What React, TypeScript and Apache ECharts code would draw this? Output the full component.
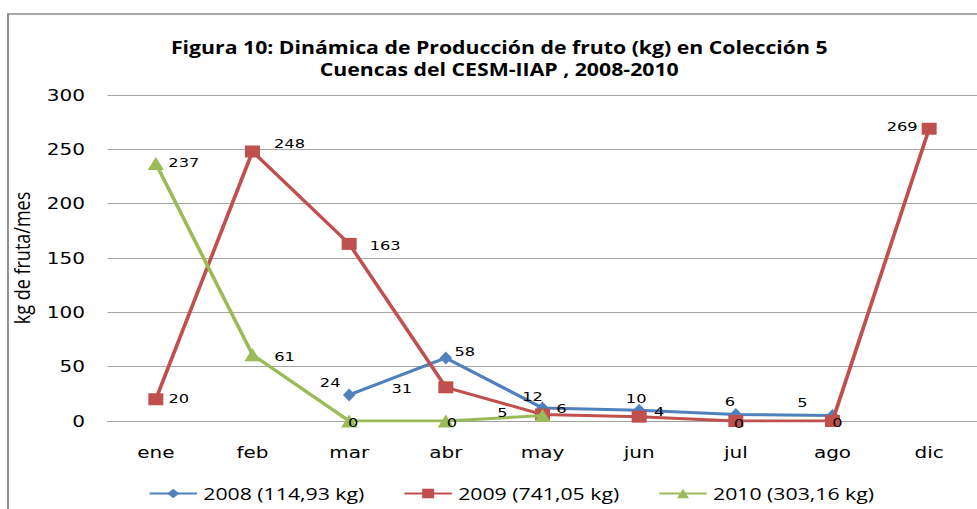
import React, { useEffect, useRef } from "react";
import * as echarts from "echarts";

const months = ["ene", "feb", "mar", "abr", "may", "jun", "jul", "ago", "dic"];
const y2008: (number | null)[] = [null, null, 24, 58, 12, 10, 6, 5, null];
const y2009: (number | null)[] = [20, 248, 163, 31, 6, 4, 0, 0, 269];
const y2010: (number | null)[] = [237, 61, 0, 0, 5, null, null, null, null];
const names = ["2008 (114,93 kg)", "2009 (741,05 kg)", "2010 (303,16 kg)"];
const yTicks = [0, 50, 100, 150, 200, 250, 300];

// label offsets (dx, dy in page pixels) relative to each marker
const off2008: number[][] = [[0, 0], [0, 0], [-19, -13], [19, -7], [-10, -12], [-3, -12], [-6, -13], [-30, -13], [0, 0]];
const off2009: number[][] = [[23, -1], [37, -8], [36, 1], [-44, 1], [19, -6], [20, -6], [3, 2], [5, 1], [-27, -3]];
const off2010: number[][] = [[28, -1], [32, 1], [4, 1], [6, 1], [-40, -3], [0, 0], [0, 0], [0, 0], [0, 0]];

// the reference is horizontally stretched; draw narrower and stretch with CSS
const S = 1.25;
const W = 977 / S;

function buildData(vals: (number | null)[], offs: number[][]) {
  return vals.map((v, i) =>
    v === null
      ? null
      : {
          value: v,
          label: { position: "inside", offset: [offs[i][0] / S, offs[i][1]] },
        }
  );
}

export default function App() {
  const ref = useRef<HTMLDivElement>(null);
  useEffect(() => {
    if (!ref.current) return;
    const chart = echarts.init(ref.current, null, { renderer: "svg" });
    const labelStyle = {
      show: true,
      color: "#000",
      fontFamily: "DejaVu Sans",
      fontSize: 13,
    };
    chart.setOption({
      animation: false,
      backgroundColor: "#fff",
      title: {
        text: "Figura 10: Dinámica de Producción de fruto (kg) en Colección 5\nCuencas del CESM-IIAP , 2008-2010",
        left: 493 / S,
        textAlign: "center",
        top: 31,
        textStyle: {
          fontFamily: "Open Sans",
          fontWeight: "bold",
          fontSize: 17,
          lineHeight: 22,
          color: "#000",
        },
      },
      graphic: [
        {
          type: "rect",
          shape: { x: 8 / S, y: 14, width: 1000, height: 600 },
          style: { fill: "none", stroke: "#8c8c8c", lineWidth: 1.5 },
          silent: true,
        },
      ],
      legend: {
        top: 480,
        left: 142 / S,
        itemWidth: 38,
        itemHeight: 12,
        itemGap: 31,
        textStyle: { fontFamily: "Open Sans", fontSize: 17, color: "#000" },
        data: names,
      },
      grid: { left: 105 / S, right: W - 985 / S, top: 95, height: 326 },
      xAxis: {
        type: "category",
        data: months,
        boundaryGap: true,
        axisLine: { lineStyle: { color: "#a0a0a0" } },
        axisTick: { show: false },
        axisLabel: {
          fontFamily: "DejaVu Sans",
          fontSize: 16,
          color: "#000",
          margin: 23,
        },
      },
      yAxis: {
        type: "value",
        min: yTicks[0],
        max: yTicks[yTicks.length - 1],
        interval: 50,
        name: "kg de fruta/mes",
        nameLocation: "middle",
        nameRotate: 90,
        nameGap: (105 - 30) / S,
        nameTextStyle: { fontFamily: "Open Sans", fontSize: 18, color: "#000" },
        axisLine: { show: false },
        axisTick: { show: false },
        splitLine: { lineStyle: { color: "#a6a6a6", width: 1 } },
        axisLabel: {
          fontFamily: "DejaVu Sans",
          fontSize: 16,
          color: "#000",
          margin: 18,
        },
      },
      series: [
        {
          name: names[0],
          type: "line",
          data: buildData(y2008, off2008),
          color: "#4F81BD",
          symbol: "diamond",
          symbolSize: [10, 13],
          lineStyle: { width: 3 },
          label: labelStyle,
          z: 3,
        },
        {
          name: names[1],
          type: "line",
          data: buildData(y2009, off2009),
          color: "#C0504D",
          symbol: "rect",
          symbolSize: [12, 12],
          lineStyle: { width: 3 },
          label: labelStyle,
          z: 4,
        },
        {
          name: names[2],
          type: "line",
          data: buildData(y2010, off2010),
          color: "#9BBB59",
          symbol: "triangle",
          symbolSize: [13, 13],
          lineStyle: { width: 3 },
          label: labelStyle,
          z: 5,
        },
      ],
    });
    return () => chart.dispose();
  }, []);
  return (
    <div
      ref={ref}
      style={{
        position: "fixed",
        left: 0,
        top: 0,
        width: W,
        height: 509,
        transform: `scaleX(${S})`,
        transformOrigin: "0 0",
      }}
    />
  );
}
